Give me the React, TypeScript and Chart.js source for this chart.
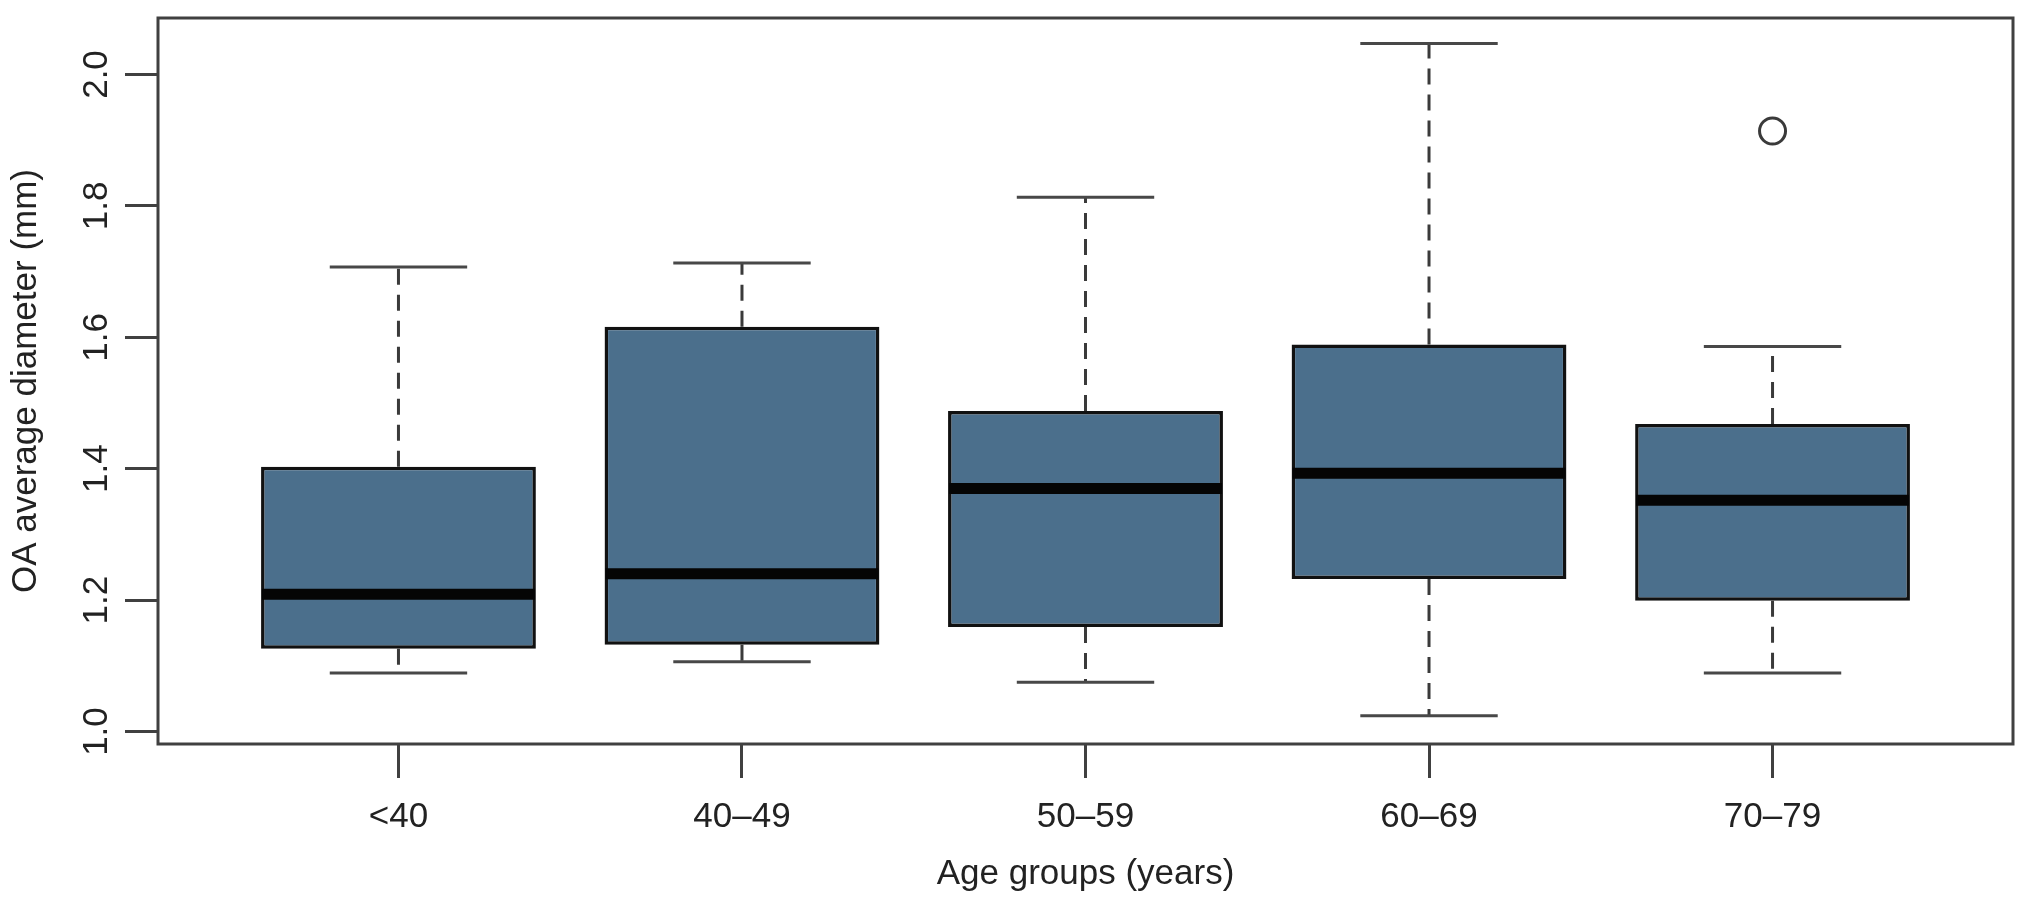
import React, { useEffect, useRef } from 'react';
import { Chart, registerables } from 'chart.js';

Chart.register(...registerables);

// ---- data ----
const categories = ['<40', '40–49', '50–59', '60–69', '70–79'];
const whiskerLow = [1.089, 1.106, 1.075, 1.024, 1.089];
const q1 = [1.126, 1.132, 1.159, 1.232, 1.199];
const median = [1.209, 1.24, 1.37, 1.393, 1.352];
const q3 = [1.403, 1.616, 1.488, 1.589, 1.468];
const whiskerHigh = [1.707, 1.713, 1.813, 2.047, 1.586];
const outlierGroup = [5];
const outlierValue = [1.914];
const yTicks = [1.0, 1.2, 1.4, 1.6, 1.8, 2.0];
const yTickLabels = ['1.0', '1.2', '1.4', '1.6', '1.8', '2.0'];

const FONT = '"Liberation Sans", Arial, Helvetica, sans-serif';
const TEXT = '#222222';
const BOX_FILL = '#4B6F8C';
const STAPLE_WIDTH = 0.4;

const boxPlugin = {
  id: 'boxParts',
  beforeDatasetsDraw(chart: any) {
    const { ctx, scales } = chart;
    const x = scales.x;
    const y = scales.y;
    ctx.save();
    ctx.lineCap = 'butt';
    categories.forEach((_, i) => {
      const cx = x.getPixelForValue(i + 1);
      const half = x.getPixelForValue(i + 1 + STAPLE_WIDTH / 2) - cx;
      const yLo = y.getPixelForValue(whiskerLow[i]);
      const yHi = y.getPixelForValue(whiskerHigh[i]);
      const yQ1 = y.getPixelForValue(q1[i]);
      const yQ3 = y.getPixelForValue(q3[i]);
      ctx.strokeStyle = '#3a3a3a';
      ctx.lineWidth = 3;
      ctx.setLineDash([16, 10]);
      ctx.beginPath();
      ctx.moveTo(cx, yQ3);
      ctx.lineTo(cx, yHi);
      ctx.moveTo(cx, yQ1);
      ctx.lineTo(cx, yLo);
      ctx.stroke();
      ctx.setLineDash([]);
      ctx.strokeStyle = '#484848';
      ctx.beginPath();
      ctx.moveTo(cx - half, yHi);
      ctx.lineTo(cx + half, yHi);
      ctx.moveTo(cx - half, yLo);
      ctx.lineTo(cx + half, yLo);
      ctx.stroke();
    });
    ctx.restore();
  },
  afterDatasetsDraw(chart: any) {
    const { ctx, scales } = chart;
    const meta = chart.getDatasetMeta(0);
    const y = scales.y;
    ctx.save();
    ctx.strokeStyle = '#050505';
    ctx.lineWidth = 11;
    meta.data.forEach((bar: any, i: number) => {
      const { x: bx, width } = bar.getProps(['x', 'width'], true);
      const ym = y.getPixelForValue(median[i]);
      ctx.beginPath();
      ctx.moveTo(bx - width / 2 + 1, ym);
      ctx.lineTo(bx + width / 2 - 1, ym);
      ctx.stroke();
    });
    ctx.restore();
  },
  afterDraw(chart: any) {
    const { ctx, chartArea, scales } = chart;
    const y = scales.y;
    ctx.save();
    ctx.strokeStyle = '#404040';
    ctx.lineWidth = 3;
    ctx.strokeRect(chartArea.left, chartArea.top, chartArea.right - chartArea.left, chartArea.bottom - chartArea.top);
    ctx.fillStyle = TEXT;
    ctx.font = `35px ${FONT}`;
    ctx.textAlign = 'center';
    ctx.textBaseline = 'middle';
    yTicks.forEach((v, i) => {
      const py = y.getPixelForValue(v);
      ctx.save();
      ctx.translate(chartArea.left - 61, py);
      ctx.rotate(-Math.PI / 2);
      ctx.fillText(yTickLabels[i], 0, 0);
      ctx.restore();
    });
    ctx.restore();
  },
};

export default function App() {
  const ref = useRef<HTMLCanvasElement>(null);
  useEffect(() => {
    document.body.style.margin = '0';
    const canvas = ref.current!;
    const chart = new Chart(canvas, {
      type: 'bar',
      data: {
        datasets: [
          {
            type: 'bar',
            data: categories.map((_, i) => ({ x: i + 1, y: [q1[i], q3[i]] })) as any,
            backgroundColor: BOX_FILL,
            borderColor: '#111111',
            borderWidth: 3.5,
            borderSkipped: false,
            barPercentage: 0.8,
            categoryPercentage: 1,
          },
          {
            type: 'scatter',
            data: outlierGroup.map((g, i) => ({ x: g, y: outlierValue[i] })),
            pointRadius: 13,
            pointHoverRadius: 13,
            pointBorderWidth: 3,
            borderColor: '#3a3a3a',
            backgroundColor: 'rgba(0,0,0,0)',
          } as any,
        ],
      },
      options: {
        responsive: false,
        animation: false,
        devicePixelRatio: 1,
        events: [],
        layout: { padding: { top: 18, right: 18, left: 0, bottom: 0 } },
        plugins: { legend: { display: false }, tooltip: { enabled: false } },
        scales: {
          x: {
            type: 'linear',
            min: 0.3,
            max: 5.7,
            offset: false,
            afterBuildTicks: (s: any) => {
              s.ticks = categories.map((_, i) => ({ value: i + 1 }));
            },
            afterFit: (s: any) => {
              s.height = 163;
            },
            grid: {
              display: true,
              offset: false,
              drawOnChartArea: false,
              drawTicks: true,
              tickLength: 34,
              tickWidth: 3,
              tickColor: '#404040',
            },
            border: { display: false },
            ticks: {
              callback: (_v: any, i: number) => categories[i],
              font: { family: FONT, size: 35 },
              color: TEXT,
              padding: 18,
              maxRotation: 0,
              autoSkip: false,
            },
            title: {
              display: true,
              text: 'Age groups (years)',
              font: { family: FONT, size: 35 },
              color: TEXT,
              padding: { top: 0, bottom: 12 },
            },
          },
          y: {
            type: 'linear',
            min: 0.981,
            max: 2.086,
            afterBuildTicks: (s: any) => {
              s.ticks = yTicks.map((v) => ({ value: v }));
            },
            afterFit: (s: any) => {
              s.width = 158;
            },
            grid: {
              display: true,
              drawOnChartArea: false,
              drawTicks: true,
              tickLength: 33,
              tickWidth: 3,
              tickColor: '#404040',
            },
            border: { display: false },
            ticks: { display: false },
            title: {
              display: true,
              text: 'OA average diameter (mm)',
              font: { family: FONT, size: 35 },
              color: TEXT,
              padding: { top: 5, bottom: 0 },
            },
          },
        },
      } as any,
      plugins: [boxPlugin],
    });
    return () => chart.destroy();
  }, []);
  return (
    <div style={{ width: 2031, height: 907 }}>
      <canvas ref={ref} width={2031} height={907} style={{ display: 'block' }} />
    </div>
  );
}
